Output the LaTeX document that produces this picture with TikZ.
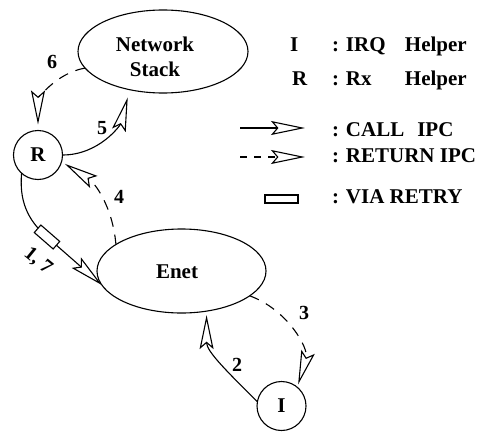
\documentclass[tikz,border=0pt]{standalone}
\usepackage{fontspec}
\setmainfont{Liberation Serif}
\usetikzlibrary{arrows.meta,shapes.geometric}
\begin{document}
\begin{tikzpicture}[x=1pt,y=1pt,
  every node/.style={font=\fontsize{21}{25}\selectfont\bfseries, inner sep=0pt, outer sep=0pt},
  blob/.style={draw, ellipse, line width=1.1pt},
  helper/.style={draw, circle, line width=1.1pt, minimum size=49pt},
  opentip/.style={-{Stealth[open, length=34pt, width=14pt, inset=6pt]}},
  callarr/.style={line width=1.1pt, opentip},
  retarr/.style={line width=1.1pt, opentip, dash pattern=on 10pt off 8pt},
  retrybox/.style={draw, fill=white, line width=1.1pt, minimum width=25pt, minimum height=10pt},
  num/.style={font=\fontsize{20}{24}\selectfont\bfseries},
]
\useasboundingbox (0,0) rectangle (481,432);

% processes
\node[blob, minimum width=170pt, minimum height=83pt] (NS) at (163,380.5) {};
\node[align=center] (NStext) at (155,375) {Network\\Stack};
\node[blob, minimum width=169pt, minimum height=84pt] (Enet) at (181.5,161) {};
\node (Enettext) at (177,160) {Enet};
\node[helper] (R) at (38,277) {R};
\node[helper] (I) at (281.5,26) {I};

% 6: Network Stack returns to R
\draw[retarr, shorten >=6pt] (NS.192) to[out=190, in=90] (R.north);
\node[num] (l6) at (52,370) {6};

% 5: R calls Network Stack
\draw[callarr, shorten >=8pt] (R.east) to[out=0, in=255] (NS.229);
\node[num] (l5) at (102,304) {5};

% 4: Enet returns to R
\draw[retarr, shorten >=4pt] (Enet.158) to[out=95, in=-32] (R.-16);
\node[num] (l4) at (119,235) {4};

% 1, 7: R calls Enet via retry
\coordinate (q) at (47,195);
\draw[line width=1.1pt] (R.228) to[out=-95, in=139] (q);
\draw[callarr] (q) -- (Enet.190);
\node[retrybox, rotate=-41] (retry) at (q) {};
\node[num, rotate=-39] (l17) at (38,171) {1, 7};

% 2: I calls Enet
\draw[callarr, shorten >=4pt] (I.170) to[out=135, in=-90] (Enet.-58);
\node[num] (l2) at (237,67) {2};

% 3: Enet returns to I
\draw[retarr, shorten >=3pt] (Enet.-20) to[out=-20, in=73] (I.50);
\node[num] (l3) at (304,119) {3};

% legend
\node[anchor=base west] (kI) at (290,380) {I};
\node[anchor=base west] (kIt) at (332,380) {: \makebox[59pt][l]{IRQ}Helper};
\node[anchor=base west] (kR) at (292,346) {R};
\node[anchor=base west] (kRt) at (332,346) {: \makebox[59pt][l]{Rx}Helper};

\coordinate (ca) at (240,304);
\coordinate (cb) at (305,304);
\draw[callarr] (ca) -- (cb);
\node[anchor=base west] (kC) at (332,296) {: CALL\hspace{13pt}IPC};

\coordinate (ra) at (240,275);
\coordinate (rb) at (305,275);
\draw[line width=1.1pt, opentip, dash pattern=on 7pt off 7pt] (ra) -- (rb);
\node[anchor=base west] (kRet) at (332,270) {: RETURN IPC};

\node[draw, line width=1.1pt, minimum width=33pt, minimum height=8pt] (kbox) at (281.5,233) {};
\node[anchor=base west] (kV) at (332,229) {: VIA RETRY};
\end{tikzpicture}
\end{document}
